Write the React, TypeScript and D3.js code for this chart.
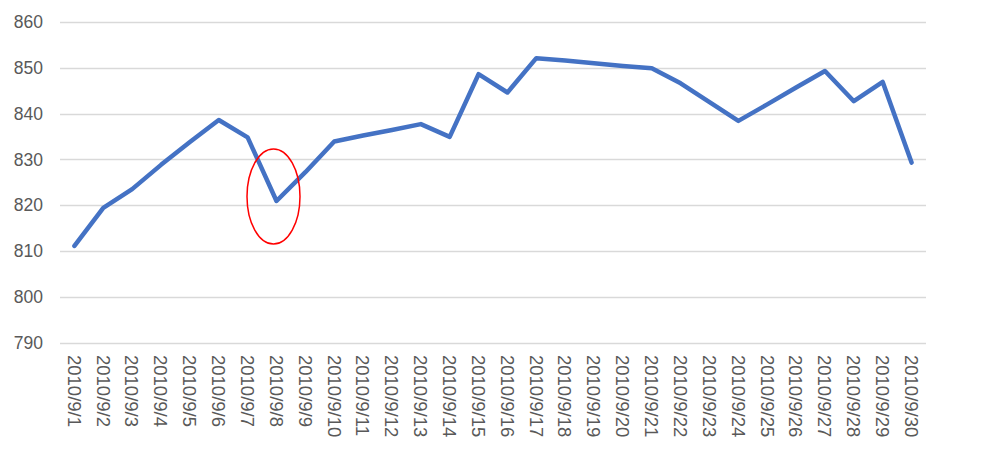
import React from "react";
import * as d3 from "d3";

const dates: string[] = Array.from({ length: 30 }, (_, i) => `2010/9/${i + 1}`);
const values: number[] = [
  811.1, 819.4, 823.5, 828.8, 833.8, 838.6, 834.8, 820.9, 827.2, 833.9,
  835.2, 836.4, 837.7, 834.9, 848.6, 844.6, 852.1, 851.6, 851.0, 850.4,
  849.9, 846.6, 842.5, 838.4, 842.0, 845.7, 849.3, 842.7, 846.9, 829.3,
];
const yTicks: number[] = [790, 800, 810, 820, 830, 840, 850, 860];
const highlightDate = "2010/9/8";
const highlightValue = 821.9;

const W = 1008;
const H = 450;
const M = { left: 60, right: 82, top: 22, bottom: 107.5 };

export default function App() {
  const x = d3
    .scaleBand<string>()
    .domain(dates)
    .range([M.left, W - M.right])
    .paddingInner(0)
    .paddingOuter(0);
  const y = d3
    .scaleLinear()
    .domain([790, 860])
    .range([H - M.bottom, M.top]);
  const cx = (d: string) => (x(d) as number) + x.bandwidth() / 2;
  const line = d3
    .line<number>()
    .x((_, i) => cx(dates[i]))
    .y((v) => y(v));

  const font = "'Liberation Sans', Arial, sans-serif";
  const textColor = "#595959";

  return (
    <svg
      width={W}
      height={H}
      style={{ position: "absolute", left: 0, top: 0, background: "#fff" }}
    >
      <rect x={0} y={0} width={W} height={H} fill="#fff" />
      {yTicks.map((t) => (
        <g key={t}>
          <line
            x1={M.left}
            x2={W - M.right}
            y1={Math.round(y(t)) + 0.5}
            y2={Math.round(y(t)) + 0.5}
            stroke="#D9D9D9"
            strokeWidth={1.3}
          />
          <text
            x={43}
            y={y(t)}
            dy="0.36em"
            textAnchor="end"
            fontFamily={font}
            fontSize={17.5}
            fill={textColor}
          >
            {t}
          </text>
        </g>
      ))}
      {dates.map((d) => (
        <text
          key={d}
          transform={`translate(${cx(d)},${355}) rotate(90)`}
          dy="0.36em"
          textAnchor="start"
          fontFamily={font}
          fontSize={18.5}
          fill={textColor}
        >
          {d}
        </text>
      ))}
      <path
        d={line(values) || ""}
        fill="none"
        stroke="#4472C4"
        strokeWidth={4.5}
        strokeLinejoin="round"
        strokeLinecap="round"
      />
      <ellipse
        cx={cx(highlightDate) - 3}
        cy={y(highlightValue)}
        rx={26.5}
        ry={47.5}
        fill="none"
        stroke="#FF0000"
        strokeWidth={1.5}
      />
    </svg>
  );
}
